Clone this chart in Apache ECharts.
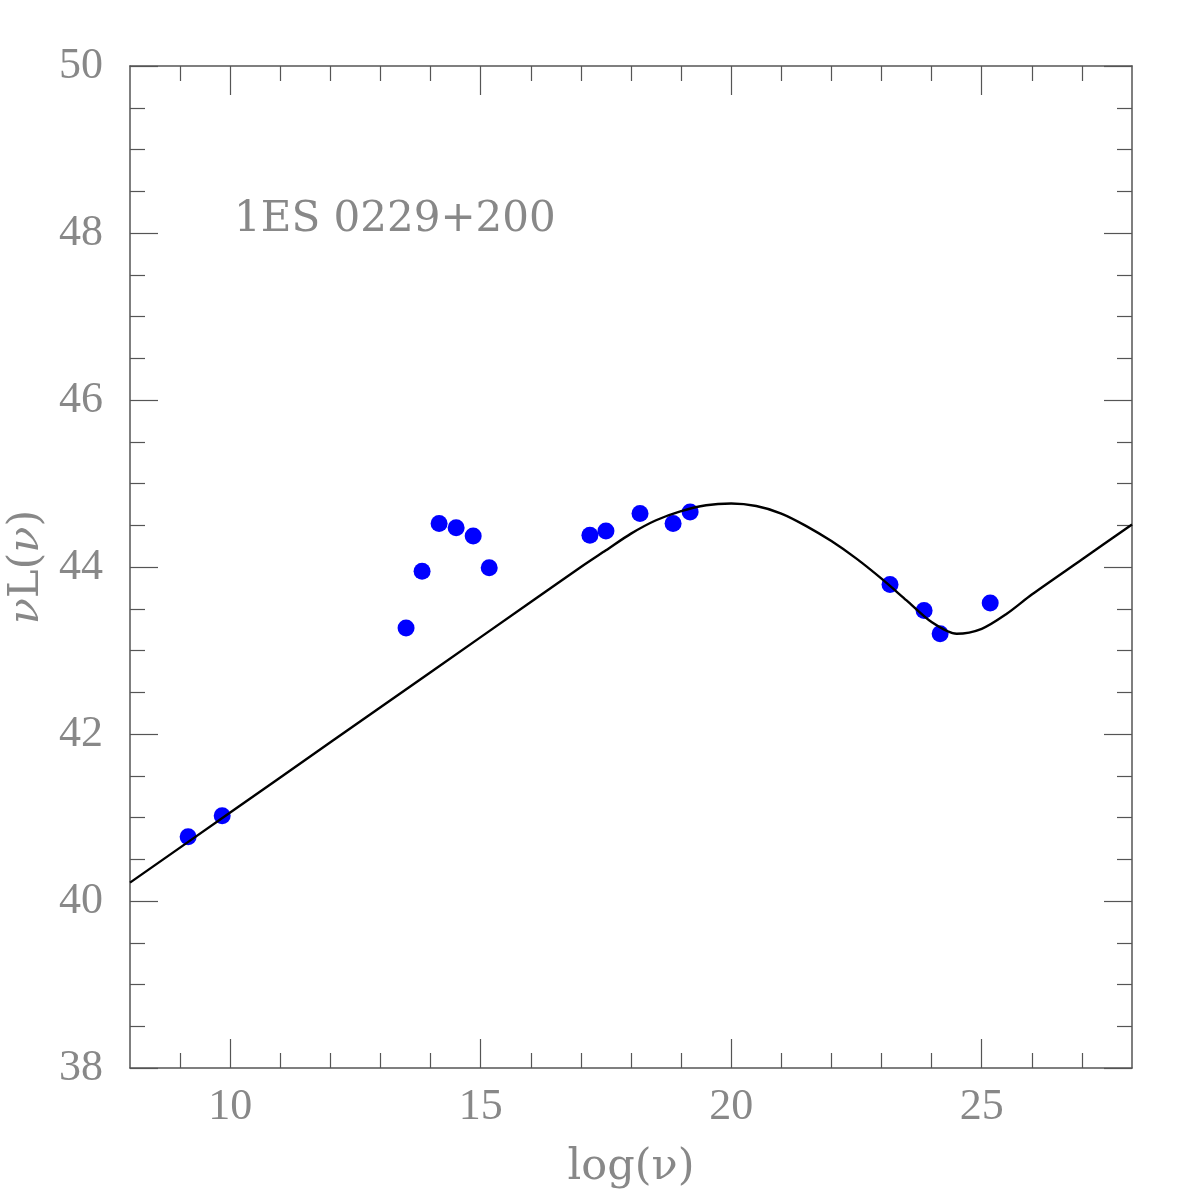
<!DOCTYPE html>
<html>
<head>
<meta charset="utf-8">
<script src="https://cdn.jsdelivr.net/npm/echarts@6/dist/echarts.min.js"></script>
<style>
  html, body { margin: 0; padding: 0; background: #fff; }
  #chart { width: 1196px; height: 1196px; }
</style>
</head>
<body>
<div id="chart"></div>
<script>
// observed SED points
const pointX = [9.16, 9.84, 13.51, 13.83, 14.17, 14.51, 14.85, 15.17, 17.18, 17.50, 18.18, 18.84, 19.18, 23.17, 23.85, 24.17, 25.17]
const pointY = [40.77, 41.02, 43.27, 43.95, 44.52, 44.47, 44.37, 43.99, 44.38, 44.43, 44.64, 44.52, 44.66, 43.79, 43.48, 43.20, 43.57]

// model curve
const curveX = [8, 10, 12, 14, 16, 17, 17.5, 18, 18.5, 19, 19.5, 20, 20.5, 21, 21.5, 22, 22.5, 23, 23.5, 24, 24.5, 25, 25.5, 26, 27, 28]
const curveY = [40.22, 41.06, 41.90, 42.74, 43.58, 44.0, 44.2, 44.4, 44.56, 44.67, 44.74, 44.76, 44.73, 44.64, 44.49, 44.31, 44.10, 43.86, 43.60, 43.34, 43.20, 43.26, 43.44, 43.67, 44.09, 44.51]

// ticks
const xMajor = [10, 15, 20, 25]
const xMinor = [9, 11, 12, 13, 14, 16, 17, 18, 19, 21, 22, 23, 24, 26, 27]
const yMajor = [38, 40, 42, 44, 46, 48, 50]
const yMinor = [38.5, 39, 39.5, 40.5, 41, 41.5, 42.5, 43, 43.5, 44.5, 45, 45.5, 46.5, 47, 47.5, 48.5, 49, 49.5]

const label = '1ES 0229+200'
const gray = '#888'
const frame = '#555'
const tickFont = 'Liberation Serif'

const chart = echarts.init(document.getElementById('chart'))

function xAxisOf(pos, ticks, len, withLabel) {
  return {
    type: 'value', min: 8, max: 28, position: pos,
    axisLine: { show: withLabel !== null, onZero: false, lineStyle: { color: frame, width: 1.5 } },
    axisTick: { show: true, inside: true, length: len, customValues: ticks, lineStyle: { color: frame, width: 1.2 } },
    axisLabel: withLabel ? {
      show: true, customValues: ticks, margin: 17, color: gray,
      fontFamily: tickFont, fontSize: 44
    } : { show: false },
    splitLine: { show: false }
  }
}

function yAxisOf(pos, ticks, len, withLabel) {
  return {
    type: 'value', min: 38, max: 50, position: pos,
    axisLine: { show: withLabel !== null, onZero: false, lineStyle: { color: frame, width: 1.5 } },
    axisTick: { show: true, inside: true, length: len, customValues: ticks, lineStyle: { color: frame, width: 1.2 } },
    axisLabel: withLabel ? {
      show: true, customValues: ticks, margin: 27, color: gray,
      fontFamily: tickFont, fontSize: 44
    } : { show: false },
    splitLine: { show: false }
  }
}

const xAxes = [
  xAxisOf('bottom', xMajor, 29, true),
  xAxisOf('bottom', xMinor, 15, null),
  xAxisOf('top', xMajor, 29, false),
  xAxisOf('top', xMinor, 15, null)
]
xAxes[0].name = 'log(ν)'
xAxes[0].nameLocation = 'middle'
xAxes[0].nameGap = 78
xAxes[0].nameTextStyle = { color: gray, fontFamily: 'DejaVu Serif', fontSize: 43 }

const yAxes = [
  yAxisOf('left', yMajor, 28, true),
  yAxisOf('left', yMinor, 15, null),
  yAxisOf('right', yMajor, 28, false),
  yAxisOf('right', yMinor, 15, null)
]
yAxes[0].name = '{i|ν}L({i|ν})'
yAxes[0].nameLocation = 'middle'
yAxes[0].nameGap = 74
yAxes[0].nameTextStyle = {
  color: gray, fontFamily: 'DejaVu Serif', fontSize: 43,
  rich: { i: { color: gray, fontFamily: 'DejaVu Serif', fontSize: 43, fontStyle: 'italic' } }
}

const option = {
  animation: false,
  backgroundColor: '#fff',
  grid: { left: 130, right: 64, top: 66, bottom: 128, outerBoundsMode: 'none' },
  xAxis: xAxes,
  yAxis: yAxes,
  graphic: [{
    type: 'text', left: 234, top: 199,
    style: { text: label, fill: gray, font: '42px "DejaVu Serif"' }
  }],
  series: [{
    type: 'scatter',
    xAxisIndex: 0, yAxisIndex: 0,
    symbolSize: 17,
    itemStyle: { color: '#0000ff', opacity: 1 },
    data: pointX.map((x, i) => [x, pointY[i]])
  }, {
    type: 'line',
    xAxisIndex: 0, yAxisIndex: 0,
    smooth: 0.3,
    showSymbol: false,
    lineStyle: { color: '#000', width: 2.4 },
    data: curveX.map((x, i) => [x, curveY[i]])
  }]
}
chart.setOption(option)
</script>
</body>
</html>
